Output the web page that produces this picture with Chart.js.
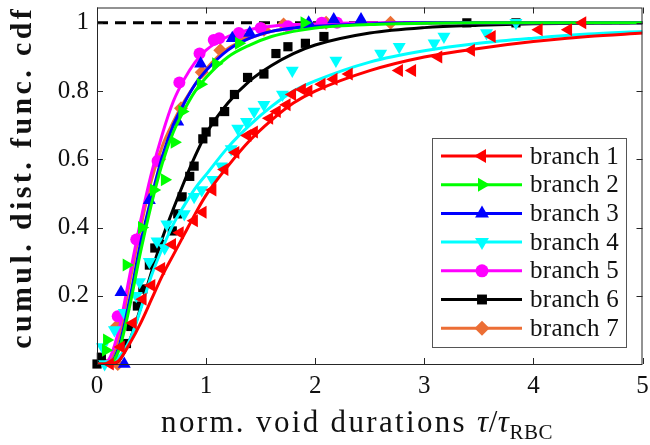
<!DOCTYPE html>
<html>
<head>
<meta charset="utf-8">
<script src="https://cdn.jsdelivr.net/npm/chart.js@4.4.1/dist/chart.umd.min.js"></script>
<style>
  html, body { margin: 0; padding: 0; background: #fff; }
  #wrap { width: 650px; height: 445px; }
</style>
</head>
<body>
<div id="wrap"><canvas id="chart" width="650" height="445"></canvas></div>
<script>
const xTicks = [0, 1, 2, 3, 4, 5];
const yTicks = [0.2, 0.4, 0.6, 0.8, 1];
const branchNames = ['branch 1', 'branch 2', 'branch 3', 'branch 4', 'branch 5', 'branch 6', 'branch 7'];

// measured points (markers)
const b1x = [0.12, 0.22, 0.33, 0.42, 0.5, 0.59, 0.69, 0.76, 0.89, 0.97, 1.06, 1.17, 1.27, 1.38, 1.44, 1.58, 1.65, 1.74, 1.79, 1.88, 1.94, 2.06, 2.17, 2.31, 2.77, 2.89, 3.13, 3.43, 3.62, 4.05, 4.32, 4.45];
const b1y = [0.0, 0.05, 0.12, 0.19, 0.23, 0.28, 0.35, 0.385, 0.42, 0.445, 0.51, 0.57, 0.62, 0.67, 0.68, 0.72, 0.74, 0.76, 0.79, 0.805, 0.80, 0.82, 0.835, 0.85, 0.86, 0.86, 0.90, 0.92, 0.96, 0.98, 0.98, 1.0];
const b2x = [0.08, 0.09, 0.27, 0.41, 0.52, 0.62, 0.71, 0.78, 0.95, 1.09, 1.3, 1.9];
const b2y = [0.04, 0.07, 0.29, 0.40, 0.51, 0.54, 0.65, 0.74, 0.82, 0.88, 0.94, 1.0];
const b3x = [0.25, 0.22, 0.48, 0.74, 0.95, 1.24, 1.4, 1.94, 2.17, 2.42];
const b3y = [0.0, 0.21, 0.48, 0.71, 0.88, 0.955, 0.97, 1.0, 1.01, 1.01];
const b4x = [0.05, 0.07, 0.16, 0.25, 0.36, 0.39, 0.48, 0.55, 0.62, 0.64, 0.80, 0.89, 0.96, 1.06, 1.14, 1.23, 1.29, 1.37, 1.44, 1.53, 1.70, 1.79, 2.19, 2.6, 2.77, 3.09, 3.18, 3.57, 3.84];
const b4y = [0.05, 0.0, 0.10, 0.15, 0.20, 0.24, 0.30, 0.36, 0.34, 0.41, 0.44, 0.49, 0.51, 0.54, 0.58, 0.63, 0.69, 0.71, 0.74, 0.76, 0.79, 0.86, 0.89, 0.91, 0.93, 0.94, 0.96, 0.97, 1.0];
const b5x = [0.19, 0.36, 0.555, 0.755, 0.94, 1.07, 1.12, 1.30, 1.5, 1.75, 2.06, 2.2];
const b5y = [0.14, 0.365, 0.595, 0.825, 0.91, 0.95, 0.955, 0.97, 0.985, 0.99, 1.0, 1.0];
const b6x = [0.0, 0.04, 0.27, 0.31, 0.37, 0.42, 0.48, 0.53, 0.59, 0.69, 0.74, 0.78, 0.85, 0.89, 0.97, 1.0, 1.07, 1.17, 1.26, 1.38, 1.53, 1.64, 1.75, 1.91, 2.08, 3.39, 3.84];
const b6y = [0.0, 0.02, 0.06, 0.11, 0.17, 0.22, 0.29, 0.34, 0.35, 0.39, 0.44, 0.49, 0.55, 0.58, 0.66, 0.68, 0.71, 0.74, 0.79, 0.84, 0.85, 0.91, 0.93, 0.94, 0.96, 1.0, 1.0];
const b7x = [0.19, 0.18, 0.37, 0.57, 0.77, 0.96, 1.13, 1.33, 1.53, 1.71, 2.1, 2.69];
const b7y = [0.0, 0.11, 0.365, 0.60, 0.75, 0.855, 0.92, 0.96, 0.98, 0.995, 1.0, 1.0];

const fitX = [0, 0.1, 0.2, 0.3, 0.4, 0.5, 0.6, 0.7, 0.8, 0.9, 1.0, 1.2, 1.4, 1.6, 1.8, 2.0, 2.5, 3.0, 3.5, 4.0, 4.5, 5.0];
const fit1 = [0, 0, 0.01, 0.06, 0.12, 0.19, 0.26, 0.32, 0.38, 0.44, 0.495, 0.58, 0.655, 0.715, 0.765, 0.80, 0.86, 0.90, 0.925, 0.945, 0.96, 0.97];
const fit2 = [0, 0, 0.04, 0.17, 0.33, 0.47, 0.59, 0.68, 0.745, 0.80, 0.84, 0.90, 0.935, 0.96, 0.975, 0.985, 0.995, 0.999, 1, 1, 1, 1];
const fit3 = [0, 0, 0.05, 0.19, 0.355, 0.49, 0.61, 0.70, 0.765, 0.82, 0.86, 0.92, 0.955, 0.975, 0.985, 0.99, 0.997, 1, 1, 1, 1, 1];
const fit4 = [0, 0, 0.02, 0.07, 0.16, 0.26, 0.34, 0.41, 0.465, 0.515, 0.555, 0.635, 0.70, 0.755, 0.80, 0.83, 0.885, 0.918, 0.94, 0.955, 0.967, 0.975];
const fit5 = [0, 0.01, 0.10, 0.26, 0.42, 0.56, 0.675, 0.77, 0.835, 0.885, 0.92, 0.96, 0.98, 0.99, 0.995, 0.997, 1, 1, 1, 1, 1, 1];
const fit6 = [0, 0, 0.01, 0.07, 0.165, 0.27, 0.37, 0.455, 0.535, 0.61, 0.675, 0.765, 0.83, 0.875, 0.91, 0.935, 0.97, 0.986, 0.993, 0.997, 0.999, 1];
const fit7 = [0.01, 0.01, 0.08, 0.24, 0.40, 0.54, 0.64, 0.71, 0.77, 0.82, 0.865, 0.925, 0.955, 0.975, 0.985, 0.99, 0.997, 1, 1, 1, 1, 1];
const refX = [0, 5];
const refY = [1, 1];

const colors = ['#ff0000', '#00ff00', '#0000ff', '#00ffff', '#ff00ff', '#000000', '#ec6e35'];
const styles = [
  { pointStyle: 'triangle', rot: -90, r: 7.5 },
  { pointStyle: 'triangle', rot: 90, r: 7.5 },
  { pointStyle: 'triangle', rot: 0, r: 7.5 },
  { pointStyle: 'triangle', rot: 180, r: 7.5 },
  { pointStyle: 'circle', rot: 0, r: 6 },
  { pointStyle: 'rect', rot: 0, r: 6.5 },
  { pointStyle: 'rectRot', rot: 0, r: 7 }
];

const markX = [b1x, b2x, b3x, b4x, b5x, b6x, b7x];
const markY = [b1y, b2y, b3y, b4y, b5y, b6y, b7y];
const fits = [fit1, fit2, fit3, fit4, fit5, fit6, fit7];

const zip = (xs, ys) => xs.map((x, i) => ({ x: x, y: ys[i] }));

const FONT = '"Liberation Serif", "Times New Roman", serif';
const AXIS = '#262626';

const datasets = [];
for (let i = 0; i < 7; i++) {
  datasets.push({
    label: branchNames[i],
    data: zip(markX[i], markY[i]),
    showLine: false,
    pointStyle: styles[i].pointStyle,
    pointRotation: styles[i].rot,
    pointRadius: styles[i].r,
    pointBackgroundColor: colors[i],
    pointBorderColor: colors[i],
    pointBorderWidth: 0,
    clip: false
  });
  datasets.push({
    label: 'fit ' + (i + 1),
    data: zip(fitX, fits[i]),
    borderColor: colors[i],
    borderWidth: 3,
    pointRadius: 0,
    cubicInterpolationMode: 'monotone',
    fill: false
  });
}
datasets.push({
  label: 'ref',
  data: zip(refX, refY),
  borderColor: '#000',
  borderWidth: 3,
  borderDash: [11, 7],
  pointRadius: 0,
  fill: false
});

// stretch a run of text to a target width with letter spacing
function spacingFor(ctx, text, font, target) {
  ctx.font = font;
  ctx.letterSpacing = '0px';
  const w = ctx.measureText(text).width;
  return Math.max(0, (target - w) / text.length);
}

// box, inward ticks, axis titles and the legend
const decor = {
  id: 'decor',
  afterDraw(chart) {
    const ctx = chart.ctx;
    const a = chart.chartArea;
    const sx = chart.scales.x, sy = chart.scales.y;
    ctx.save();
    ctx.strokeStyle = AXIS;
    ctx.lineWidth = 1;
    ctx.strokeRect(a.left + 0.5, a.top + 0.5, a.right - a.left - 1, a.bottom - a.top);
    const tl = 6;
    ctx.beginPath();
    xTicks.forEach(v => {
      const px = Math.round(sx.getPixelForValue(v)) + 0.5;
      ctx.moveTo(px, a.bottom); ctx.lineTo(px, a.bottom - tl);
      ctx.moveTo(px, a.top); ctx.lineTo(px, a.top + tl);
    });
    yTicks.forEach(v => {
      const py = Math.round(sy.getPixelForValue(v)) + 0.5;
      ctx.moveTo(a.left, py); ctx.lineTo(a.left + tl, py);
      ctx.moveTo(a.right, py); ctx.lineTo(a.right - tl, py);
    });
    ctx.stroke();

    // x title with subscript
    ctx.fillStyle = '#111';
    ctx.textBaseline = 'alphabetic';
    const base = 432, fs = 31;
    const parts = [
      { t: 'norm. void durations ', f: fs + 'px ' + FONT, dy: 0 },
      { t: '\u03c4', f: 'italic ' + fs + 'px ' + FONT, dy: 0 },
      { t: '/', f: fs + 'px ' + FONT, dy: 0 },
      { t: '\u03c4', f: 'italic ' + fs + 'px ' + FONT, dy: 0 },
      { t: 'RBC', f: '21px ' + FONT, dy: 7 }
    ];
    const ls = spacingFor(ctx, 'norm. void durations ', parts[0].f, 316);
    let total = 0;
    parts.forEach((p, k) => {
      ctx.font = p.f;
      ctx.letterSpacing = (k === 0 ? ls : 0.5) + 'px';
      p.ls = ctx.letterSpacing;
      p.w = ctx.measureText(p.t).width;
      total += p.w;
    });
    let cx = 357 - total / 2;
    parts.forEach(p => {
      ctx.font = p.f;
      ctx.letterSpacing = p.ls;
      ctx.textAlign = 'left';
      ctx.fillText(p.t, cx, base + p.dy);
      cx += p.w;
    });

    // y title
    ctx.save();
    ctx.translate(31, 179);
    ctx.rotate(-Math.PI / 2);
    const yFont = 'bold 30px ' + FONT;
    const yText = 'cumul. dist. func. cdf';
    const yls = spacingFor(ctx, yText, yFont, 343);
    ctx.font = yFont;
    ctx.letterSpacing = yls + 'px';
    ctx.textAlign = 'center';
    ctx.fillText(yText, yls / 2, 0);
    ctx.restore();
    ctx.letterSpacing = '0px';

    // legend
    const L = { x: 432, y: 138, w: 194, h: 209 };
    ctx.fillStyle = '#fff';
    ctx.fillRect(L.x, L.y, L.w, L.h);
    ctx.strokeStyle = '#555';
    ctx.lineWidth = 1;
    ctx.strokeRect(L.x + 0.5, L.y + 0.5, L.w, L.h);
    for (let i = 0; i < 7; i++) {
      const ey = 156 + i * 28.7;
      ctx.strokeStyle = colors[i];
      ctx.lineWidth = 3;
      ctx.beginPath();
      ctx.moveTo(441, ey); ctx.lineTo(522, ey);
      ctx.stroke();
      ctx.fillStyle = colors[i];
      ctx.strokeStyle = colors[i];
      ctx.lineWidth = 0;
      Chart.helpers.drawPoint(ctx, {
        pointStyle: styles[i].pointStyle,
        rotation: styles[i].rot,
        radius: styles[i].r + 0.5,
        borderWidth: 0
      }, 482, ey);
      ctx.fillStyle = '#111';
      ctx.font = '25px ' + FONT;
      ctx.letterSpacing = '0.3px';
      ctx.textAlign = 'left';
      ctx.textBaseline = 'middle';
      ctx.fillText(branchNames[i], 530, ey + 1);
    }
    ctx.restore();
  }
};

new Chart(document.getElementById('chart'), {
  type: 'line',
  data: { datasets: datasets },
  options: {
    responsive: false,
    animation: false,
    layout: { padding: { left: 0, right: 6, top: 2, bottom: 0 } },
    plugins: { legend: { display: false }, tooltip: { enabled: false } },
    scales: {
      x: {
        type: 'linear', min: 0, max: 5,
        afterBuildTicks: s => { s.ticks = xTicks.map(v => ({ value: v })); },
        afterFit: s => { s.height = 81; s.paddingLeft = 0; s.paddingRight = 0; },
        grid: { display: false, drawTicks: false },
        border: { display: false },
        ticks: { font: { family: FONT, size: 25 }, color: '#111', padding: 7, maxRotation: 0 }
      },
      y: {
        type: 'linear', min: 0, max: 1.045,
        afterBuildTicks: s => { s.ticks = yTicks.map(v => ({ value: v })); },
        afterFit: s => { s.width = 97; s.paddingTop = 0; s.paddingBottom = 0; },
        grid: { display: false, drawTicks: false },
        border: { display: false },
        ticks: { font: { family: FONT, size: 25 }, color: '#111', padding: 8, callback: v => String(v) }
      }
    }
  },
  plugins: [decor]
});
</script>
</body>
</html>
